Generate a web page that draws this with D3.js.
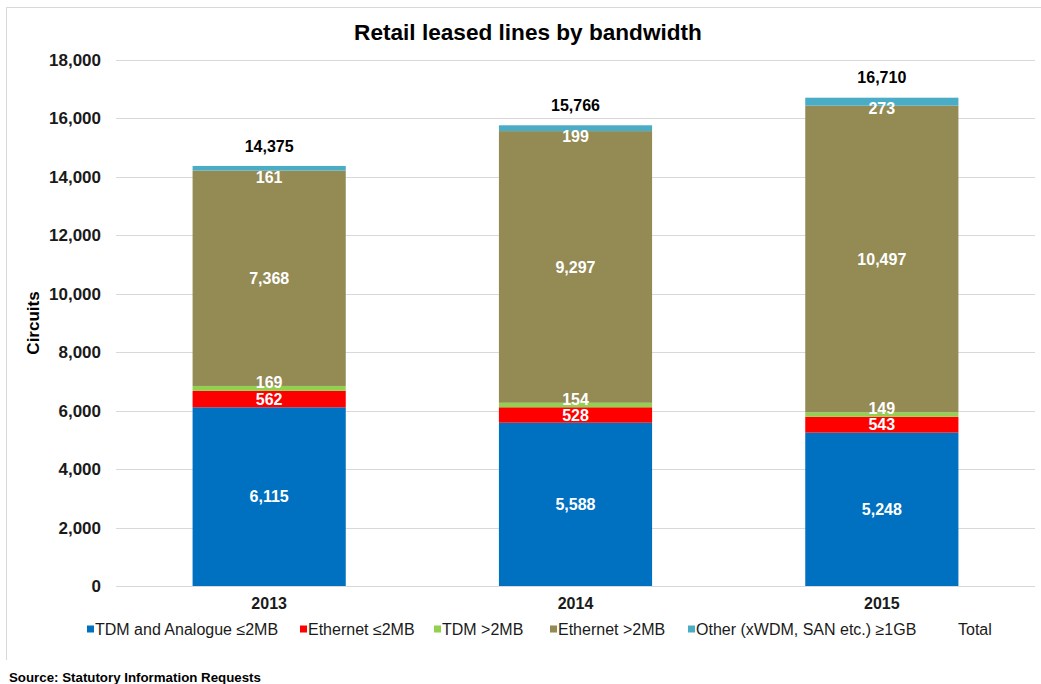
<!DOCTYPE html>
<html><head><meta charset="utf-8">
<script src="https://cdn.jsdelivr.net/npm/d3@7"></script>
<style>
body{margin:0;background:#fff;}
text{font-family:Arial,"Liberation Sans",sans-serif;}
</style></head>
<body><svg id="c" width="1041" height="684"></svg>
<script>
const years = ["2013","2014","2015"];
const seriesNames = ["TDM and Analogue \u22642MB","Ethernet \u22642MB","TDM >2MB","Ethernet >2MB","Other (xWDM, SAN etc.) \u22651GB"];
const tdmAnalogue = [6115,5588,5248];
const ethernetLow = [562,528,543];
const tdmHigh = [169,154,149];
const ethernetHigh = [7368,9297,10497];
const other = [161,199,273];
const totals = [14375,15766,16710];
const yTicks = [0,2000,4000,6000,8000,10000,12000,14000,16000,18000];
const colors = ["#0070C0","#FF0000","#92D050","#948A54","#4BACC6"];

const svg = d3.select("#c");
const fmt = d3.format(",");
// frame
svg.append("line").attr("x1",6).attr("x2",1041).attr("y1",7.5).attr("y2",7.5).attr("stroke","#d9d9d9");
svg.append("line").attr("x1",6.5).attr("x2",6.5).attr("y1",7).attr("y2",660).attr("stroke","#d9d9d9");

const x = d3.scaleBand().domain(years).range([116,1035]).paddingInner(0.5).paddingOuter(0.25);
const y = d3.scaleLinear().domain([0,18000]).range([586,60]);

// gridlines
svg.append("g").selectAll("line").data(yTicks).join("line")
  .attr("x1",116).attr("x2",1035)
  .attr("y1",d=>Math.round(y(d))+0.5).attr("y2",d=>Math.round(y(d))+0.5)
  .attr("stroke","#d9d9d9").attr("stroke-width",1);

// y axis labels
const yAxis = d3.axisLeft(y).tickValues(yTicks).tickFormat(fmt).tickSize(0).tickPadding(0);
const ga = svg.append("g").attr("transform","translate(101,0)").call(yAxis);
ga.select(".domain").remove();
ga.selectAll("text").attr("font-size",17).attr("font-weight","bold").attr("fill","#1a1a1a").attr("font-family","Arial, 'Liberation Sans', sans-serif");

// x axis
const xAxis = d3.axisBottom(x).tickSize(0).tickPadding(0);
const gx = svg.append("g").attr("transform","translate(0,598)").call(xAxis);
gx.select(".domain").remove();
gx.selectAll("text").attr("font-size",16).attr("font-weight","bold").attr("fill","#1a1a1a").attr("font-family","Arial, 'Liberation Sans', sans-serif");

const rows = years.map((yr,i)=>({year:yr, v:[tdmAnalogue[i],ethernetLow[i],tdmHigh[i],ethernetHigh[i],other[i]], total:totals[i]}));
const keys = [0,1,2,3,4];
const stack = d3.stack().keys(keys).value((d,k)=>d.v[k]);
const stacked = stack(rows);

const gBars = svg.append("g");
stacked.forEach((layer,k)=>{
  gBars.append("g").selectAll("rect").data(layer).join("rect")
    .attr("x",d=>x(d.data.year)).attr("width",x.bandwidth())
    .attr("y",d=>y(d[1])).attr("height",d=>y(d[0])-y(d[1]))
    .attr("fill",colors[k]);
});
// segment labels
stacked.forEach((layer,k)=>{
  svg.append("g").selectAll("text").data(layer).join("text")
    .attr("x",d=>x(d.data.year)+x.bandwidth()/2)
    .attr("y",d=>{
      let cy = (y(d[0])+y(d[1]))/2;
      if(k===2) cy -= 6;
      if(k===4) cy = Math.max(cy, y(d.data.total)+11);
      return cy;
    })
    .attr("dy","0.36em").attr("text-anchor","middle")
    .attr("font-size",16).attr("font-weight","bold").attr("fill","#fff")
    .text(d=>fmt(d.data.v[k]));
});
// totals
svg.append("g").selectAll("text").data(rows).join("text")
  .attr("x",d=>x(d.year)+x.bandwidth()/2).attr("y",d=>y(d.total)-20)
  .attr("dy","0.36em").attr("text-anchor","middle")
  .attr("font-size",16).attr("font-weight","bold").attr("fill","#000")
  .text(d=>fmt(d.total));

// title
svg.append("text").attr("x",528).attr("y",32).attr("dy","0.36em").attr("text-anchor","middle")
  .attr("font-size",22.6).attr("font-weight","bold").attr("fill","#000").text("Retail leased lines by bandwidth");
// y title
svg.append("text").attr("transform","translate(33,323) rotate(-90)").attr("dy","0.36em").attr("text-anchor","middle")
  .attr("font-size",17).attr("font-weight","bold").attr("fill","#000").text("Circuits");

// legend
const legendItems = seriesNames.map((n,i)=>({name:n,color:colors[i]})).concat([{name:"Total",color:null}]);
const legendX = [87,300,434,550,688,950];
const lg = svg.append("g");
legendItems.forEach((it,i)=>{
  const lx = legendX[i];
  if(it.color) lg.append("rect").attr("x",lx).attr("y",625.5).attr("width",7).attr("height",7).attr("fill",it.color);
  lg.append("text").attr("x",lx+8).attr("y",629).attr("dy","0.36em")
    .attr("font-size",16).attr("fill","#1a1a1a").text(it.name);
});

// source
svg.append("text").attr("x",9).attr("y",677).attr("dy","0.36em")
  .attr("font-size",13.3).attr("font-weight","bold").attr("fill","#000").text("Source: Statutory Information Requests");
</script></body></html>
